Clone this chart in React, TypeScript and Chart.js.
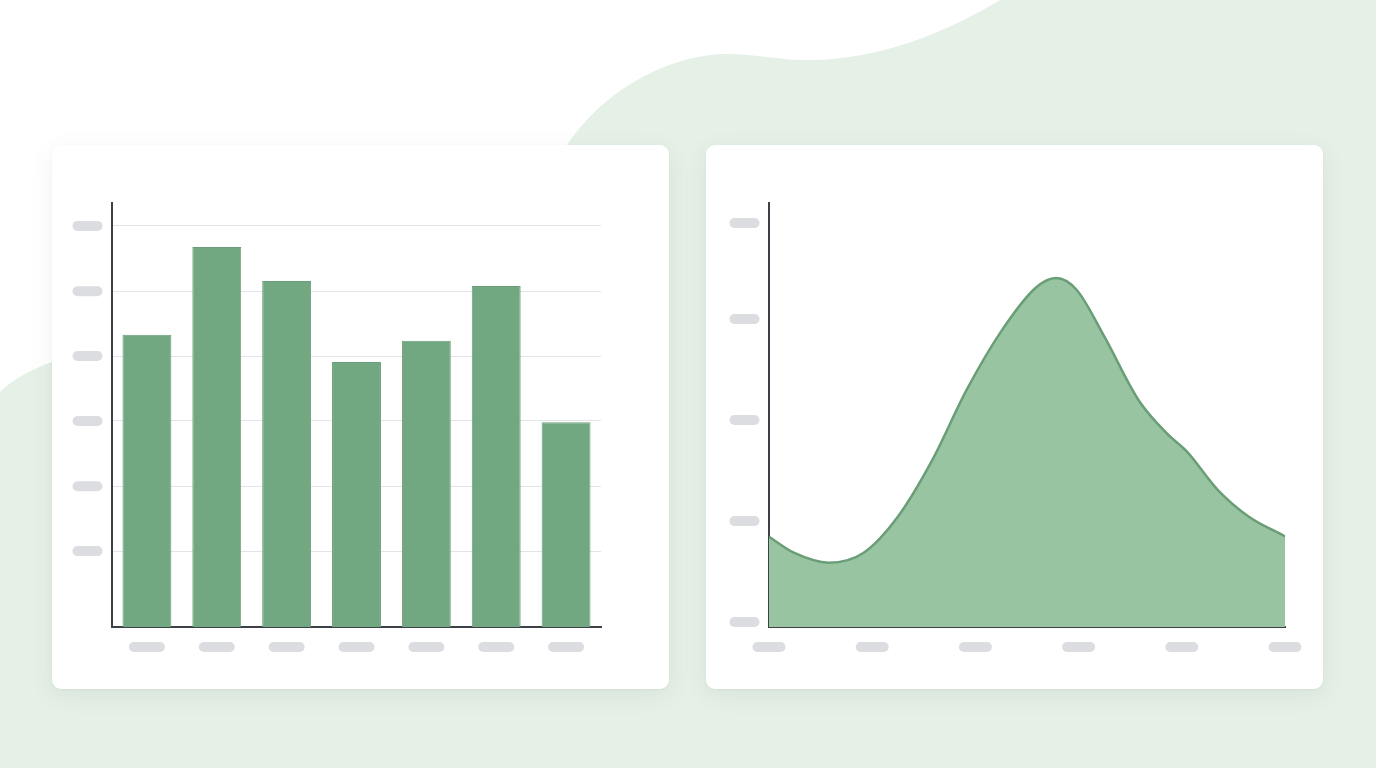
import React, { useEffect, useRef } from "react";
import { Chart, registerables } from "chart.js";

Chart.register(...registerables);

// bar chart (left card)
const barCategories = ["A", "B", "C", "D", "E", "F", "G"];
const barValues = [68.9, 89.6, 81.6, 62.5, 67.5, 80.4, 48.3];
const barTicks = [17.9, 33.2, 48.6, 63.9, 79.2, 94.6];

// area chart (right card)
const areaX = [0, 0.246, 0.58, 0.914, 1.248, 1.582, 1.915, 2.248, 2.582, 2.782, 2.982, 3.25, 3.58, 3.85, 4.05, 4.35, 4.65, 5];
const areaY = [0.894, 0.733, 0.637, 0.733, 1.092, 1.653, 2.347, 2.924, 3.356, 3.455, 3.337, 2.874, 2.248, 1.921, 1.736, 1.356, 1.092, 0.898];
const areaXTicks = [0, 1, 2, 3, 4, 5];
const areaYTicks = [0.05, 1.05, 2.05, 3.05, 4.0];

const AXIS = "#3b4147";
const PILL = "#dcdde1";

// draws grey placeholder pills where tick labels would be
const pillPlugin = {
  id: "pills",
  afterDraw(chart: any, _args: any, opts: any) {
    const { ctx, chartArea } = chart;
    const pill = (cx: number, cy: number, w: number) => {
      const h = 10;
      ctx.beginPath();
      ctx.roundRect(cx - w / 2, cy - h / 2, w, h, h / 2);
      ctx.fill();
    };
    ctx.save();
    ctx.fillStyle = PILL;
    const xs = chart.scales.x;
    xs.ticks.forEach((_t: any, i: number) => pill(xs.getPixelForTick(i), chartArea.bottom + 20, opts.xWidth));
    const ys = chart.scales.y;
    ys.ticks.forEach((_t: any, i: number) => pill(chartArea.left - 24.5, ys.getPixelForTick(i), 30));
    ctx.restore();
  },
};

function BarCard() {
  const ref = useRef<HTMLCanvasElement | null>(null);
  useEffect(() => {
    if (!ref.current) return;
    const chart = new Chart(ref.current, {
      type: "bar",
      data: {
        labels: barCategories,
        datasets: [
          {
            data: barValues,
            backgroundColor: "#72a881",
            borderColor: "#6b9f79",
            borderWidth: 1,
            barPercentage: 0.7,
            categoryPercentage: 1,
          },
        ],
      },
      options: {
        responsive: false,
        animation: false,
        layout: { padding: { left: 60, top: 58, right: 68, bottom: 62 } },
        plugins: { legend: { display: false }, tooltip: { enabled: false }, pills: { xWidth: 36 } } as any,
        scales: {
          x: {
            grid: { display: false, drawTicks: false },
            border: { display: true, color: AXIS, width: 2 },
            ticks: { display: false },
          },
          y: {
            min: 0,
            max: 100,
            afterBuildTicks: (axis: any) => {
              axis.ticks = barTicks.map((v) => ({ value: v }));
            },
            grid: { color: "#e2e4e7", lineWidth: 1, drawTicks: false },
            border: { display: true, color: AXIS, width: 2 },
            ticks: { display: false },
          },
        },
      },
      plugins: [pillPlugin],
    });
    return () => chart.destroy();
  }, []);
  return <canvas ref={ref} width={617} height={544} />;
}

function AreaCard() {
  const ref = useRef<HTMLCanvasElement | null>(null);
  useEffect(() => {
    if (!ref.current) return;
    const chart = new Chart(ref.current, {
      type: "line",
      data: {
        datasets: [
          {
            data: areaX.map((x, i) => ({ x, y: areaY[i] })),
            borderColor: "#6a9e76",
            borderWidth: 2.5,
            backgroundColor: "#98c4a2",
            fill: "origin",
            pointRadius: 0,
            cubicInterpolationMode: "monotone",
          },
        ],
      },
      options: {
        responsive: false,
        animation: false,
        layout: { padding: { left: 63, top: 58, right: 38, bottom: 62 } },
        plugins: { legend: { display: false }, tooltip: { enabled: false }, pills: { xWidth: 33 } } as any,
        scales: {
          x: {
            type: "linear",
            min: 0,
            max: 5,
            afterBuildTicks: (axis: any) => {
              axis.ticks = areaXTicks.map((v) => ({ value: v }));
            },
            grid: { display: false, drawTicks: false },
            border: { display: true, color: AXIS, width: 2 },
            ticks: { display: false },
          },
          y: {
            min: 0,
            max: 4.198,
            afterBuildTicks: (axis: any) => {
              axis.ticks = areaYTicks.map((v) => ({ value: v }));
            },
            grid: { display: false, drawTicks: false },
            border: { display: true, color: AXIS, width: 2 },
            ticks: { display: false },
          },
        },
      },
      plugins: [pillPlugin],
    });
    return () => chart.destroy();
  }, []);
  return <canvas ref={ref} width={617} height={544} />;
}

const card: React.CSSProperties = {
  position: "absolute",
  top: 145,
  width: 617,
  height: 544,
  background: "#ffffff",
  borderRadius: 9,
  boxShadow: "0 6px 24px rgba(60, 90, 70, 0.08), 0 1px 3px rgba(0,0,0,0.04)",
  overflow: "hidden",
};

export default function App() {
  return (
    <div
      style={{
        position: "fixed",
        left: 0,
        top: 0,
        width: 1376,
        height: 768,
        overflow: "hidden",
        background: "#e5f0e7",
      }}
    >
      <svg width={1376} height={768} style={{ position: "absolute", left: 0, top: 0 }}>
        <path
          d="M0,0 L1000,0 C950,30 880,62 800,60 C770,59 750,53 720,54 C660,58 600,95 567,145 L400,400 L52,362 C30,370 12,380 0,392 Z"
          fill="#ffffff"
        />
      </svg>
      <div style={{ ...card, left: 52 }}>
        <BarCard />
      </div>
      <div style={{ ...card, left: 706 }}>
        <AreaCard />
      </div>
    </div>
  );
}
